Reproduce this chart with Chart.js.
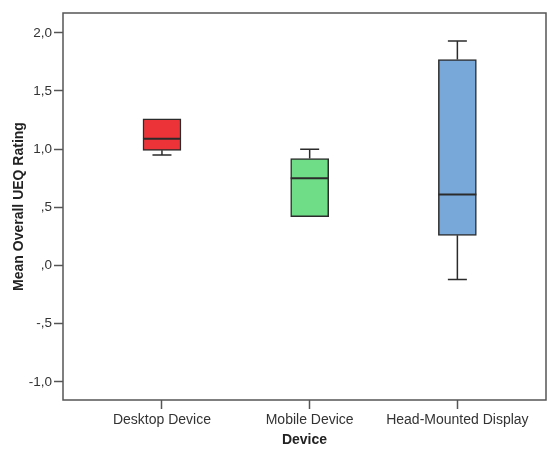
<!DOCTYPE html>
<html>
<head>
<meta charset="utf-8">
<script src="https://cdn.jsdelivr.net/npm/chart.js@4/dist/chart.umd.min.js"></script>
<style>
    html, body { margin: 0; padding: 0; background: #fff; }
    #wrap { width: 547px; height: 449px; }
</style>
</head>
<body>
<div id="wrap"><canvas id="ueqBoxplot"></canvas></div>
<script>
// Box plot summary per device (values in UEQ rating units)
var categories = ["Desktop Device", "Mobile Device", "Head-Mounted Display"];
var whiskerLow = [0.95, 0.42, -0.12];
var q1 = [0.99, 0.42, 0.26];
var median = [1.09, 0.75, 0.61];
var q3 = [1.26, 0.92, 1.77];
var whiskerHigh = [1.26, 1.0, 1.93];
var yTicks = [-1, -0.5, 0, 0.5, 1, 1.5, 2];

var boxColors = ["#ec3338", "#6fdc87", "#78a8da"];
var lineColor = "#2b2b2b";
var frameColor = "#555555";

// SPSS style labels: comma decimals, no leading zero
var formatTick = function (v) {
    var s = Math.abs(v).toFixed(1).replace(".", ",");
    if (Math.abs(v) < 1) s = s.substring(1);
    return (v < 0 ? "-" : "") + s;
};

// Draws the whiskers, caps, medians and the closed plot frame
var boxExtras = {
    id: "boxExtras",
    afterDatasetsDraw: function (chart) {
        var ctx = chart.ctx;
        var xs = chart.scales.x;
        var ys = chart.scales.y;
        ctx.save();
        ctx.strokeStyle = lineColor;
        categories.forEach(function (c, i) {
            var cx = xs.getPixelForValue(i + 1);
            var half = 19;
            var cap = 9.5;
            ctx.lineWidth = 1.5;
            ctx.beginPath();
            if (whiskerHigh[i] > q3[i]) {
                ctx.moveTo(cx, ys.getPixelForValue(q3[i]));
                ctx.lineTo(cx, ys.getPixelForValue(whiskerHigh[i]));
                ctx.moveTo(cx - cap, ys.getPixelForValue(whiskerHigh[i]));
                ctx.lineTo(cx + cap, ys.getPixelForValue(whiskerHigh[i]));
            }
            if (whiskerLow[i] < q1[i]) {
                ctx.moveTo(cx, ys.getPixelForValue(q1[i]));
                ctx.lineTo(cx, ys.getPixelForValue(whiskerLow[i]));
                ctx.moveTo(cx - cap, ys.getPixelForValue(whiskerLow[i]));
                ctx.lineTo(cx + cap, ys.getPixelForValue(whiskerLow[i]));
            }
            ctx.stroke();
            ctx.lineWidth = 2;
            ctx.beginPath();
            ctx.moveTo(cx - half, ys.getPixelForValue(median[i]));
            ctx.lineTo(cx + half, ys.getPixelForValue(median[i]));
            ctx.stroke();
        });
        var a = chart.chartArea;
        ctx.strokeStyle = frameColor;
        ctx.lineWidth = 1.5;
        ctx.strokeRect(a.left, a.top, a.right - a.left, a.bottom - a.top);
        ctx.restore();
    },
};

var ctx = document.getElementById("ueqBoxplot").getContext("2d");
new Chart(ctx, {
    type: "bar",
    data: {
        datasets: [
            {
                data: categories.map(function (c, i) {
                    return { x: i + 1, y: [q1[i], q3[i]] };
                }),
                backgroundColor: boxColors,
                borderColor: lineColor,
                borderWidth: 1.5,
                borderSkipped: false,
                barThickness: 38,
            },
        ],
    },
    options: {
        responsive: true,
        maintainAspectRatio: false,
        animation: false,
        layout: { padding: { top: 13, right: 1, left: 0, bottom: 0 } },
        plugins: {
            legend: { display: false },
            tooltip: { enabled: false },
        },
        scales: {
            x: {
                type: "linear",
                offset: false,
                min: 0.33,
                max: 3.6,
                afterBuildTicks: function (scale) {
                    scale.ticks = categories.map(function (c, i) {
                        return { value: i + 1 };
                    });
                },
                afterFit: function (scale) {
                    scale.height = 49;
                },
                ticks: {
                    color: "#333",
                    font: { family: "'Liberation Sans', Arial", size: 14 },
                    padding: 3,
                    maxRotation: 0,
                    autoSkip: false,
                    callback: function (v) {
                        return categories[v - 1];
                    },
                },
                grid: {
                    offset: false,
                    drawOnChartArea: false,
                    drawTicks: true,
                    tickLength: 9,
                    tickColor: frameColor,
                    tickWidth: 1.5,
                },
                border: { display: false },
                title: {
                    display: true,
                    text: "Device",
                    color: "#222",
                    font: { family: "'Liberation Sans', Arial", size: 14, weight: "bold" },
                    padding: { top: 0, bottom: 0 },
                },
            },
            y: {
                min: -1.155,
                max: 2.17,
                afterBuildTicks: function (scale) {
                    scale.ticks = yTicks.map(function (v) {
                        return { value: v };
                    });
                },
                afterFit: function (scale) {
                    scale.width = 63;
                },
                ticks: {
                    color: "#333",
                    font: { family: "'Liberation Sans', Arial", size: 13.5 },
                    padding: 2,
                    callback: function (v) {
                        return formatTick(v);
                    },
                },
                grid: {
                    drawOnChartArea: false,
                    drawTicks: true,
                    tickLength: 9,
                    tickColor: frameColor,
                    tickWidth: 1.5,
                },
                border: { display: false },
                title: {
                    display: true,
                    text: "Mean Overall UEQ Rating",
                    color: "#222",
                    font: { family: "'Liberation Sans', Arial", size: 14, weight: "bold" },
                    padding: { top: 11, bottom: 0 },
                },
            },
        },
    },
    plugins: [boxExtras],
});
</script>
</body>
</html>
